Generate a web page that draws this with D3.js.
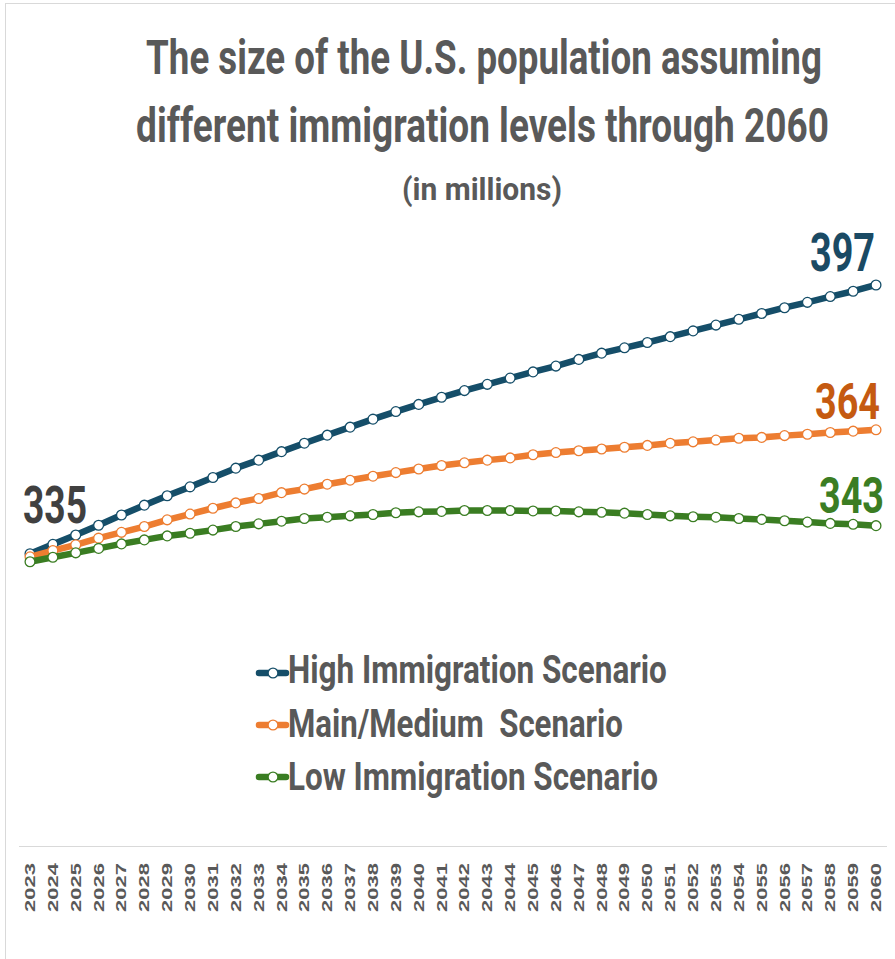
<!DOCTYPE html>
<html><head><meta charset="utf-8">
<script src="https://cdn.jsdelivr.net/npm/d3@7/dist/d3.min.js"></script>
<style>body{margin:0;background:#fff}svg{display:block}</style>
</head><body>
<svg id="chart" width="895" height="959"></svg>
<script>
// ---- data ----
const years = [2023,2024,2025,2026,2027,2028,2029,2030,2031,2032,2033,2034,2035,2036,2037,2038,2039,2040,2041,2042,
  2043,2044,2045,2046,2047,2048,2049,2050,2051,2052,2053,2054,2055,2056,2057,2058,2059,2060];
const highValues = [336.7,338.8,340.9,343.1,345.4,347.6,349.7,351.7,353.8,355.9,357.7,359.6,361.5,363.3,365.1,366.9,368.6,370.2,371.8,373.3,
  374.7,376.1,377.5,378.8,380.3,381.7,382.9,384.1,385.4,386.7,388.0,389.3,390.6,391.9,393.1,394.4,395.6,397.0];
const mediumValues = [336.0,337.4,338.7,340.2,341.5,342.8,344.3,345.6,346.9,348.1,349.1,350.4,351.2,352.3,353.2,354.1,354.9,355.7,356.5,357.1,
  357.7,358.2,358.9,359.4,359.8,360.2,360.6,361.0,361.5,361.8,362.2,362.6,362.8,363.2,363.5,363.9,364.2,364.5];
const lowValues = [334.9,335.9,336.9,337.9,338.9,339.8,340.7,341.3,342.0,342.8,343.4,344.0,344.6,344.9,345.2,345.5,345.9,346.1,346.2,346.4,
  346.4,346.4,346.3,346.3,346.1,346.0,345.8,345.5,345.2,345.0,344.9,344.6,344.4,344.1,343.8,343.5,343.3,343.0];
const seriesNames = ["High Immigration Scenario", "Main/Medium  Scenario", "Low Immigration Scenario"];
const endLabels = ["397", "364", "343"];
const startLabel = "335";
const titleLines = ["The size of the U.S. population assuming", "different immigration levels through 2060"];
const subtitle = "(in millions)";

// ---- styling ----
const lineColors = ["#154E69", "#ED7D31", "#3A7D22"];
const labelColors = ["#1A4A64", "#C55A11", "#3B7D23"];
const condensed = "'Liberation Sans Narrow', 'Roboto', sans-serif";

const svg = d3.select("#chart");

// squeeze a text horizontally to a target width using a transform
function placeText(sel, xf, yf, lenf, anchor, rotate) {
  sel.each(function(d, i) {
    const w = this.getComputedTextLength();
    const s = lenf(d, i) / w;
    d3.select(this).attr("x", 0).attr("y", 0).attr("text-anchor", anchor)
      .attr("transform", `translate(${xf(d, i)},${yf(d, i)})${rotate ? " rotate(" + rotate + ")" : ""} scale(${s},1)`);
  });
}

// frame
svg.append("rect").attr("x", 5.5).attr("y", 3.5).attr("width", 1000).attr("height", 1000)
  .attr("fill", "none").attr("stroke", "#d9d9d9").attr("stroke-width", 1);

// title
const titleSpec = [
  {text: titleLines[0], cx: 484, y: 74, len: 676, fs: 48},
  {text: titleLines[1], cx: 482.5, y: 142, len: 693, fs: 48},
  {text: subtitle, cx: 482, y: 200, len: 160, fs: 31}
];
svg.selectAll("text.title").data(titleSpec).join("text")
  .attr("class", "title")
  .attr("font-family", condensed).attr("font-weight", 700)
  .attr("font-size", d => d.fs).attr("fill", "#595959")
  .text(d => d.text)
  .call(placeText, d => d.cx, d => d.y, d => d.len, "middle");

// scales
const x = d3.scaleLinear().domain([2023, 2060]).range([30, 876]);
const y = d3.scaleLinear().domain([300, 400]).range([717.3, 271.6]);

// x axis
const axisY = 846;
svg.append("line").attr("x1", 19).attr("x2", 887).attr("y1", axisY + 0.5).attr("y2", axisY + 0.5)
  .attr("stroke", "#d9d9d9").attr("stroke-width", 1);
svg.selectAll("text.xl").data(years).join("text")
  .attr("class", "xl")
  .attr("font-family", "'Liberation Sans', Arial, sans-serif").attr("font-weight", 700)
  .attr("font-size", 14).attr("fill", "#595959")
  .text(d => d)
  .call(placeText, d => x(d) + 5, () => 863, () => 49, "end", -90);

// series
const series = [highValues, mediumValues, lowValues].map((vals, i) => ({
  name: seriesNames[i], color: lineColors[i],
  points: years.map((yr, j) => ({year: yr, value: vals[j]}))
}));
const line = d3.line().x(d => x(d.year)).y(d => y(d.value));
const g = svg.selectAll("g.series").data(series).join("g").attr("class", "series");
g.append("path").attr("d", d => line(d.points)).attr("fill", "none")
  .attr("stroke", d => d.color).attr("stroke-width", 6.5)
  .attr("stroke-linejoin", "round").attr("stroke-linecap", "round");
g.selectAll("circle").data(d => d.points.map(p => ({...p, color: d.color}))).join("circle")
  .attr("cx", d => x(d.year)).attr("cy", d => y(d.value)).attr("r", 4.9)
  .attr("fill", "#fff").attr("stroke", d => d.color).attr("stroke-width", 1.3);

// start label
svg.append("text")
  .attr("font-family", condensed).attr("font-weight", 700).attr("font-size", 52)
  .attr("fill", "#404040").text(startLabel)
  .call(placeText, () => x(2023) - 7, () => y(lowValues[0]) - 39, () => 64, "start");

// end labels
const lastVals = [highValues, mediumValues, lowValues].map(v => v[v.length - 1]);
const endSpec = [
  {dx: -66, dy: -14, fs: 54},
  {dx: -61, dy: -11, fs: 50},
  {dx: -57, dy: -13, fs: 50}
];
svg.selectAll("text.end").data(endLabels).join("text")
  .attr("class", "end")
  .attr("font-family", condensed).attr("font-weight", 700)
  .attr("font-size", (d, i) => endSpec[i].fs).attr("fill", (d, i) => labelColors[i])
  .text(d => d)
  .call(placeText, (d, i) => x(2060) + endSpec[i].dx, (d, i) => y(lastVals[i]) + endSpec[i].dy, () => 65, "start");

// legend
const legendRows = [
  {sy: 673, ty: 683, len: 379},
  {sy: 725, ty: 737, len: 335},
  {sy: 777, ty: 790, len: 370}
];
const lg = svg.selectAll("g.leg").data(series).join("g").attr("class", "leg");
lg.append("line").attr("x1", 259).attr("x2", 286)
  .attr("y1", (d, i) => legendRows[i].sy).attr("y2", (d, i) => legendRows[i].sy)
  .attr("stroke", d => d.color).attr("stroke-width", 6.5).attr("stroke-linecap", "round");
lg.append("circle").attr("cx", 273).attr("cy", (d, i) => legendRows[i].sy).attr("r", 4.9)
  .attr("fill", "#fff").attr("stroke", d => d.color).attr("stroke-width", 1.3);
lg.append("text")
  .style("white-space", "pre")
  .attr("font-family", condensed).attr("font-weight", 700).attr("font-size", 38)
  .attr("fill", "#595959").text(d => d.name)
  .call(placeText, () => 288, (d, i) => legendRows[i].ty, (d, i) => legendRows[i].len, "start");
</script>
</body></html>
